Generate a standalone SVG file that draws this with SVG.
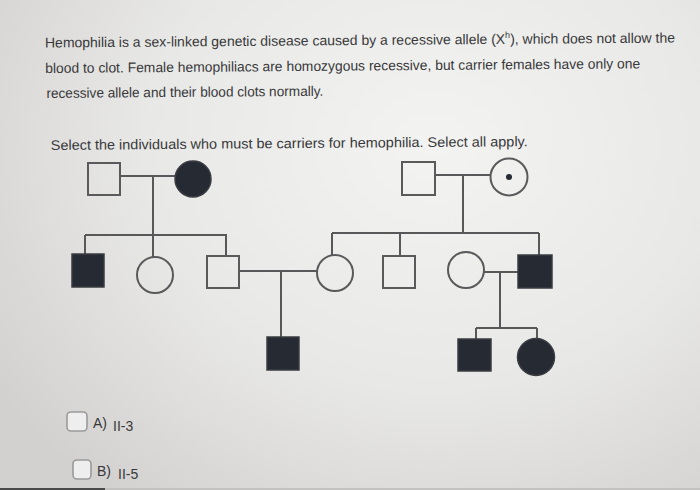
<svg xmlns="http://www.w3.org/2000/svg" width="700" height="490" viewBox="0 0 700 490">
<defs>
<radialGradient id="bg" cx="0.62" cy="0.3" r="0.75" gradientTransform="translate(0.62 0.3) scale(1 1.2) translate(-0.62 -0.3)">
<stop offset="0" stop-color="#f3f3f1"/>
<stop offset="0.55" stop-color="#e8e8e6"/>
<stop offset="1" stop-color="#d3d1cf"/>
</radialGradient>
<style>
.t{font-family:"Liberation Sans",Arial,sans-serif;fill:#38383a;font-size:14px}
.s{fill:none;stroke:#58585a;stroke-width:2}
.f{fill:#262a33;stroke:#3a3c42;stroke-width:1.5}
.o{fill:none;stroke:#5a5a5c;stroke-width:2}
.cb{fill:#eeeeee;stroke:#9a9a9a;stroke-width:1.6}
</style>
</defs>
<rect x="0" y="0" width="700" height="490" fill="url(#bg)"/>
<rect x="0" y="488" width="700" height="2" fill="#c4c2c0"/>
<rect x="0" y="488" width="105" height="2" fill="#4a4a4a"/>
<g id="question" transform="rotate(-0.45 45 47)">
<text class="t" x="45" y="47.5" textLength="630" lengthAdjust="spacingAndGlyphs">Hemophilia is a sex-linked genetic disease caused by a recessive allele (X<tspan font-size="9" dy="-6">h</tspan><tspan dy="6">), which does not allow the</tspan></text>
<text class="t" x="45" y="73" textLength="595" lengthAdjust="spacingAndGlyphs">blood to clot. Female hemophiliacs are homozygous recessive, but carrier females have only one</text>
<text class="t" x="46" y="98" textLength="277" lengthAdjust="spacingAndGlyphs">recessive allele and their blood clots normally.</text>
<text class="t" x="50" y="150" textLength="477" lengthAdjust="spacingAndGlyphs">Select the individuals who must be carriers for hemophilia. Select all apply.</text>
</g>
<g id="connectors">
<path class="s" d="M120 176H175M153 176V235M85 235H227M85 235V254M153 235V257M226 235V256"/>
<path class="s" d="M435 175H490M463 175V233M332 233H539M332 233V255M400 233V256M539 233V255"/>
<path class="s" d="M239 271H317M281 271V337"/>
<path class="s" d="M484 272H518M500 272V328M476 328H537M476 328V339M537 328V339"/>
</g>
<g id="I-1"><rect class="o" x="88" y="163" width="32" height="32"/></g>
<g id="I-2"><circle class="f" cx="193" cy="179" r="18"/></g>
<g id="I-3"><rect class="o" x="402" y="162" width="33" height="33"/></g>
<g id="I-4"><circle class="o" cx="509" cy="177" r="18.5"/><circle cx="509" cy="177" r="3" fill="#262a33"/></g>
<g id="II-1"><rect class="f" x="72" y="254" width="32" height="33"/></g>
<g id="II-2"><circle class="o" cx="155" cy="275" r="18"/></g>
<g id="II-3"><rect class="o" x="207" y="256" width="32" height="32"/></g>
<g id="II-4"><circle class="o" cx="335" cy="273" r="18"/></g>
<g id="II-5"><rect class="o" x="383" y="256" width="32" height="32"/></g>
<g id="II-6"><circle class="o" cx="466" cy="270" r="18"/></g>
<g id="II-7"><rect class="f" x="518" y="255" width="34" height="33"/></g>
<g id="III-1"><rect class="f" x="267" y="337" width="32" height="33"/></g>
<g id="III-2"><rect class="f" x="458" y="339" width="33" height="32"/></g>
<g id="III-3"><circle class="f" cx="536" cy="357" r="18.5"/></g>
<g id="optionA">
<rect class="cb" x="67" y="412" width="20" height="19" rx="4"/>
<text class="t" x="93" y="428" font-size="14">A)</text>
<text class="t" x="113" y="431" font-size="10.5">II-3</text>
</g>
<g id="optionB">
<rect class="cb" x="73" y="460" width="18" height="19" rx="4"/>
<text class="t" x="97" y="476" font-size="14">B)</text>
<text class="t" x="118" y="479" font-size="10.5">II-5</text>
</g>
</svg>
